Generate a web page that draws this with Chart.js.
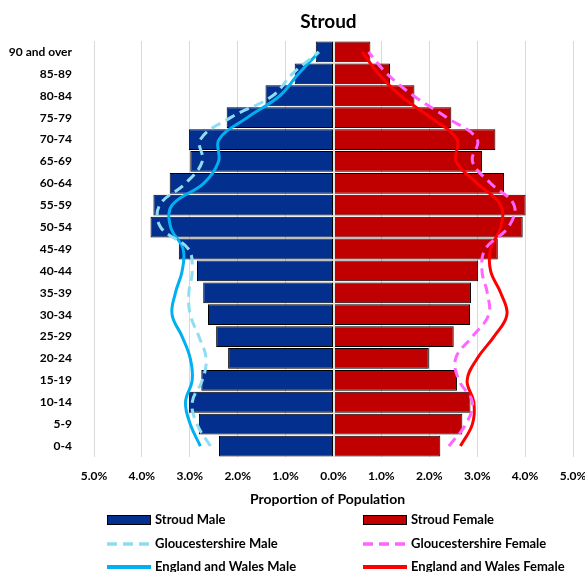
<!DOCTYPE html>
<html><head><meta charset="utf-8">
<script src="https://cdn.jsdelivr.net/npm/chart.js@4/dist/chart.umd.min.js"></script>
<style>html,body{margin:0;padding:0;background:#fff}#wrap{width:585px;height:572px;position:relative}</style>
</head><body><div id="wrap"><canvas id="c" width="585" height="572"></canvas></div>
<script>
const chartTitle = 'Stroud';
const axisTitle = 'Proportion of Population';
const ageGroups = ['0-4','5-9','10-14','15-19','20-24','25-29','30-34','35-39','40-44','45-49','50-54','55-59','60-64','65-69','70-74','75-79','80-84','85-89','90 and over'];
const stroudMale   = [2.39, 2.81, 3.02, 2.76, 2.20, 2.45, 2.62, 2.72, 2.85, 3.23, 3.82, 3.76, 3.42, 2.99, 3.02, 2.23, 1.42, 0.81, 0.37];
const stroudFemale = [2.23, 2.69, 2.86, 2.58, 1.99, 2.51, 2.85, 2.87, 3.02, 3.43, 3.95, 4.01, 3.56, 3.10, 3.38, 2.46, 1.69, 1.18, 0.77];
const glosMale     = [2.57, 2.85, 2.95, 2.74, 2.66, 2.81, 2.99, 3.02, 2.95, 3.03, 3.61, 3.63, 3.09, 2.74, 2.78, 2.15, 1.27, 0.86, 0.31];
const ewMale       = [2.78, 2.99, 3.09, 2.95, 2.99, 3.16, 3.37, 3.30, 3.16, 3.14, 3.40, 3.37, 2.71, 2.40, 2.39, 1.80, 1.12, 0.73, 0.30];
const glosFemale   = [2.41, 2.76, 2.90, 2.62, 2.55, 2.90, 3.24, 3.21, 3.10, 3.17, 3.65, 3.77, 3.28, 2.90, 3.00, 2.37, 1.67, 1.12, 0.73];
const ewFemale     = [2.65, 2.90, 2.93, 2.79, 3.00, 3.35, 3.62, 3.49, 3.28, 3.28, 3.49, 3.49, 3.00, 2.56, 2.58, 2.03, 1.40, 0.94, 0.60];
const xTicks = [-5, -4, -3, -2, -1, 0, 1, 2, 3, 4, 5];

const FONT = 'Lato, "Open Sans", sans-serif';
const neg = a => a.map(v => -v);

const textPlugin = {
  id: 'customTexts',
  afterDraw(chart) {
    const {ctx, chartArea} = chart;
    const cx = (chartArea.left + chartArea.right) / 2;
    ctx.save();
    ctx.fillStyle = '#000';
    ctx.textAlign = 'center';
    ctx.textBaseline = 'middle';
    ctx.font = 'bold 19px ' + FONT;
    ctx.fillText(chartTitle, cx - 5, 22);
    ctx.font = 'bold 14px ' + FONT;
    ctx.fillText(axisTitle, cx - 6, chartArea.bottom + 42);
    ctx.restore();
  }
};

const zeroLinePlugin = {
  id: 'zeroLine',
  afterDatasetsDraw(chart) {
    const {ctx, chartArea, scales} = chart;
    const x = Math.round(scales.x.getPixelForValue(0));
    ctx.save();
    ctx.strokeStyle = '#E3E3E3';
    ctx.lineWidth = 2;
    ctx.beginPath();
    ctx.moveTo(x, chartArea.top);
    ctx.lineTo(x, chartArea.bottom);
    ctx.stroke();
    ctx.restore();
  }
};

const legendPlugin = {
  id: 'customLegend',
  afterDraw(chart) {
    const {ctx} = chart;
    const layout = [
      {ds: 0, col: 0, row: 0}, {ds: 1, col: 1, row: 0},
      {ds: 2, col: 0, row: 1}, {ds: 3, col: 1, row: 1},
      {ds: 4, col: 0, row: 2}, {ds: 5, col: 1, row: 2}
    ];
    const colX = [107, 363];
    const rowY = [520, 544, 567];
    ctx.save();
    layout.forEach(it => {
      const d = chart.data.datasets[it.ds];
      const x0 = colX[it.col], y = rowY[it.row], w = 44;
      if (d.type === 'bar') {
        ctx.fillStyle = d.backgroundColor;
        ctx.fillRect(x0, y - 5, w, 10);
        ctx.strokeStyle = '#000';
        ctx.lineWidth = 1;
        ctx.strokeRect(x0 + 0.5, y - 4.5, w - 1, 9);
      } else {
        ctx.strokeStyle = d.borderColor;
        ctx.lineWidth = d.borderDash ? 3.5 : 4;
        ctx.setLineDash(d.borderDash ? [10, 6] : []);
        ctx.lineCap = 'butt';
        ctx.beginPath();
        ctx.moveTo(x0, y);
        ctx.lineTo(x0 + w, y);
        ctx.stroke();
        ctx.setLineDash([]);
      }
      ctx.fillStyle = '#000';
      ctx.font = 'bold 13px ' + FONT;
      ctx.textAlign = 'left';
      ctx.textBaseline = 'middle';
      ctx.fillText(d.label, x0 + 48, y);
    });
    ctx.restore();
  }
};

const barCommon = {type: 'bar', borderColor: '#000', borderWidth: 1, borderSkipped: false,
  grouped: false, barPercentage: 0.95, categoryPercentage: 1, order: 2};
const lineCommon = {type: 'line', pointRadius: 0, fill: false, tension: 0.4, borderWidth: 3, order: 1};

new Chart(document.getElementById('c'), {
  type: 'bar',
  data: {
    labels: ageGroups,
    datasets: [
      Object.assign({label: 'Stroud Male', data: neg(stroudMale), backgroundColor: '#03308E'}, barCommon),
      Object.assign({label: 'Stroud Female', data: stroudFemale, backgroundColor: '#C00000'}, barCommon),
      Object.assign({label: 'Gloucestershire Male', data: neg(glosMale), borderColor: '#8FDDF3', borderDash: [10, 6]}, lineCommon),
      Object.assign({label: 'Gloucestershire Female', data: glosFemale, borderColor: '#FF66FF', borderDash: [10, 6]}, lineCommon),
      Object.assign({label: 'England and Wales Male', data: neg(ewMale), borderColor: '#00B0F0'}, lineCommon),
      Object.assign({label: 'England and Wales Female', data: ewFemale, borderColor: '#FF0000'}, lineCommon)
    ]
  },
  options: {
    indexAxis: 'y',
    responsive: false,
    animation: false,
    devicePixelRatio: 1,
    layout: {padding: {top: 41, bottom: 91, left: 0, right: 12}},
    plugins: {legend: {display: false}, title: {display: false}, tooltip: {enabled: false}},
    scales: {
      x: {
        min: -5, max: 5,
        afterBuildTicks: s => { s.ticks = xTicks.map(v => ({value: v})); },
        afterFit: s => { s.paddingLeft = 0; s.paddingRight = 0; s.height = 24; },
        ticks: {
          callback: v => Math.abs(v).toFixed(1) + '%',
          font: {family: FONT, size: 12, weight: 'bold'}, color: '#000', padding: 12,
          maxRotation: 0
        },
        grid: {color: '#D9D9D9', drawTicks: false},
        border: {display: false}
      },
      y: {
        reverse: true,
        afterFit: s => { s.width = 94; },
        grid: {display: false},
        border: {display: false},
        ticks: {font: {family: FONT, size: 12, weight: 'bold'}, color: '#000', padding: 14, autoSkip: false}
      }
    }
  },
  plugins: [textPlugin, zeroLinePlugin, legendPlugin]
});
</script>
</body></html>
